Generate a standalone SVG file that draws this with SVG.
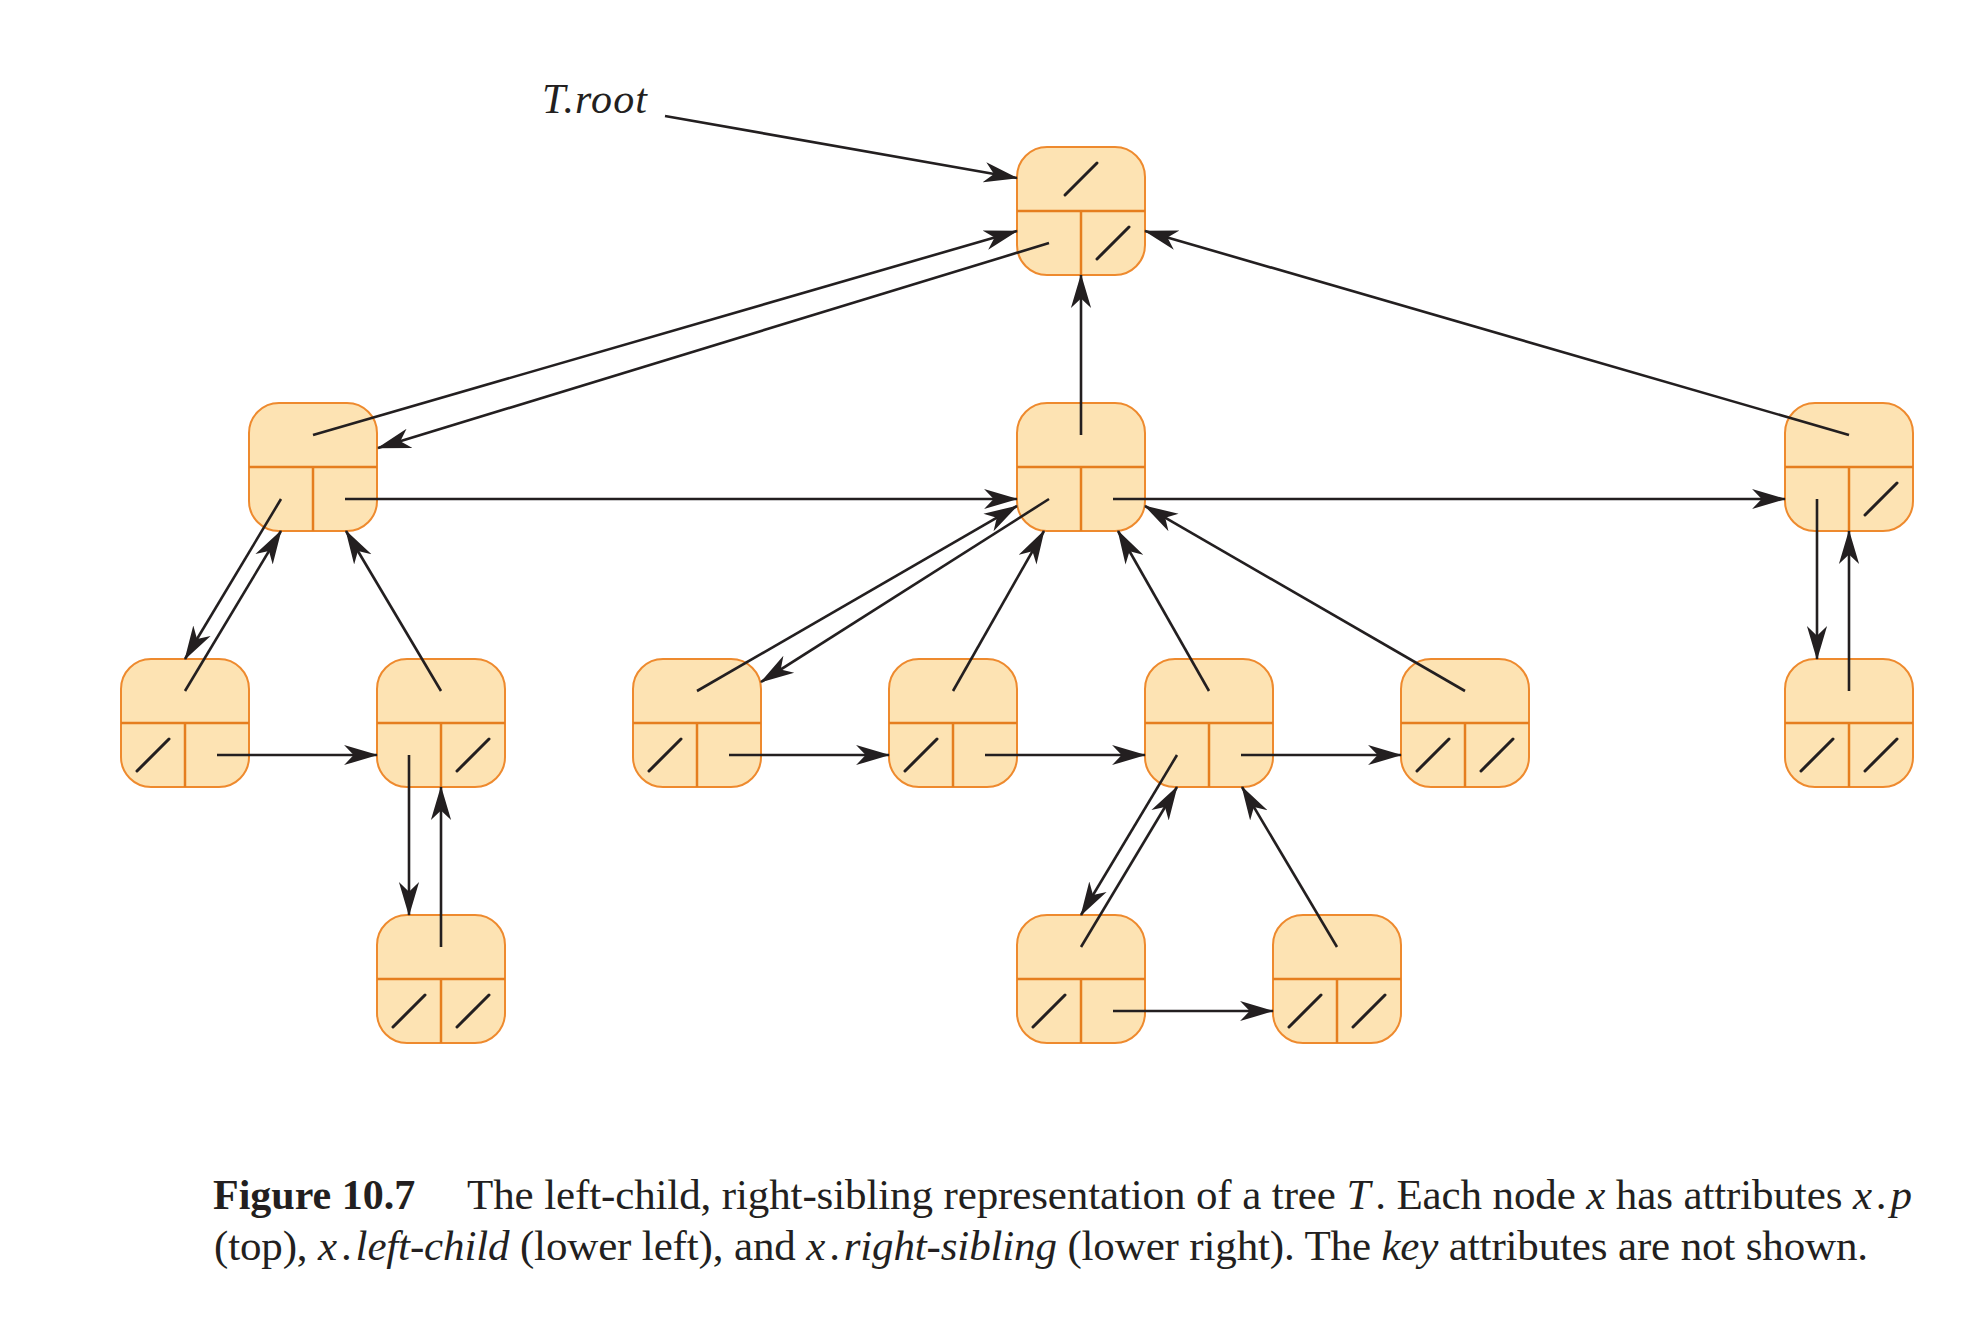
<svg xmlns="http://www.w3.org/2000/svg" xmlns:xlink="http://www.w3.org/1999/xlink" width="1977" height="1337" viewBox="0 0 1977 1337">
<style>
.box{fill:#FDE3B3;stroke:#EE8A2E;stroke-width:2}
.div{stroke:#E57E1F;stroke-width:2.5;fill:none}
.nil{stroke:#231F20;stroke-width:3;stroke-linecap:round}
.ptr{stroke:#231F20;stroke-width:2.6;fill:none;marker-end:url(#ah)}
.lbl{font-family:"Liberation Serif","Times New Roman",serif;fill:#231F20}
.it{font-style:italic}
</style>
<defs>
<marker id="ah" markerUnits="userSpaceOnUse" markerWidth="34" markerHeight="22" viewBox="0 0 32 20" refX="31" refY="10" orient="auto">
<path d="M0,0.5 L32,10 L0,19.5 L9,10 Z" fill="#231F20"/>
</marker>
<g id="box">
<rect class="box" x="0" y="0" width="128" height="128" rx="30" ry="30"/>
<line class="div" x1="0" y1="64" x2="128" y2="64"/>
<line class="div" x1="64" y1="64" x2="64" y2="128"/>
</g>
<line id="sT" class="nil" x1="48" y1="48" x2="80" y2="16"/>
<line id="sL" class="nil" x1="16" y1="112" x2="48" y2="80"/>
<line id="sR" class="nil" x1="80" y1="112" x2="112" y2="80"/>
</defs>

<g id="nodes">
<g id="n-root" transform="translate(1017,147)"><use href="#box"/><use href="#sT"/><use href="#sR"/></g>
<g id="n-a" transform="translate(249,403)"><use href="#box"/></g>
<g id="n-b" transform="translate(1017,403)"><use href="#box"/></g>
<g id="n-c" transform="translate(1785,403)"><use href="#box"/><use href="#sR"/></g>
<g id="n-d" transform="translate(121,659)"><use href="#box"/><use href="#sL"/></g>
<g id="n-e" transform="translate(377,659)"><use href="#box"/><use href="#sR"/></g>
<g id="n-f" transform="translate(633,659)"><use href="#box"/><use href="#sL"/></g>
<g id="n-g" transform="translate(889,659)"><use href="#box"/><use href="#sL"/></g>
<g id="n-h" transform="translate(1145,659)"><use href="#box"/></g>
<g id="n-i" transform="translate(1401,659)"><use href="#box"/><use href="#sL"/><use href="#sR"/></g>
<g id="n-j" transform="translate(1785,659)"><use href="#box"/><use href="#sL"/><use href="#sR"/></g>
<g id="n-k" transform="translate(377,915)"><use href="#box"/><use href="#sL"/><use href="#sR"/></g>
<g id="n-l" transform="translate(1017,915)"><use href="#box"/><use href="#sL"/></g>
<g id="n-m" transform="translate(1273,915)"><use href="#box"/><use href="#sL"/><use href="#sR"/></g>
</g>

<g id="connectors">
<line class="ptr" x1="665" y1="116" x2="1017" y2="178"/>
<line class="ptr" x1="1049" y1="243" x2="378" y2="448"/>
<line class="ptr" x1="313" y1="435" x2="1017" y2="231"/>
<line class="ptr" x1="1081" y1="435" x2="1081" y2="275"/>
<line class="ptr" x1="1849" y1="435" x2="1145" y2="231"/>
<line class="ptr" x1="345" y1="499" x2="1017" y2="499"/>
<line class="ptr" x1="1113" y1="499" x2="1785" y2="499"/>
<line class="ptr" x1="281" y1="499" x2="185" y2="659"/>
<line class="ptr" x1="185" y1="691" x2="281" y2="531"/>
<line class="ptr" x1="441" y1="691" x2="346" y2="531"/>
<line class="ptr" x1="217" y1="755" x2="377" y2="755"/>
<line class="ptr" x1="409" y1="755" x2="409" y2="915"/>
<line class="ptr" x1="441" y1="947" x2="441" y2="787"/>
<line class="ptr" x1="1049" y1="499" x2="761" y2="682"/>
<line class="ptr" x1="697" y1="691" x2="1017" y2="506"/>
<line class="ptr" x1="953" y1="691" x2="1044" y2="531"/>
<line class="ptr" x1="1209" y1="691" x2="1118" y2="531"/>
<line class="ptr" x1="1465" y1="691" x2="1145" y2="506"/>
<line class="ptr" x1="729" y1="755" x2="889" y2="755"/>
<line class="ptr" x1="985" y1="755" x2="1145" y2="755"/>
<line class="ptr" x1="1241" y1="755" x2="1401" y2="755"/>
<line class="ptr" x1="1177" y1="755" x2="1081" y2="915"/>
<line class="ptr" x1="1081" y1="947" x2="1177" y2="787"/>
<line class="ptr" x1="1337" y1="947" x2="1242" y2="787"/>
<line class="ptr" x1="1113" y1="1011" x2="1273" y2="1011"/>
<line class="ptr" x1="1817" y1="499" x2="1817" y2="659"/>
<line class="ptr" x1="1849" y1="691" x2="1849" y2="531"/>
</g>

<text class="lbl it" x="542" y="113" font-size="42" textLength="105" lengthAdjust="spacing">T.root</text>

<g id="caption">
<text class="lbl" x="213" y="1209" font-size="42" font-weight="bold">Figure 10.7</text>
<text class="lbl" x="467" y="1209" font-size="43" textLength="1445" lengthAdjust="spacing">The left-child, right-sibling representation of a tree <tspan class="it">T</tspan><tspan dx="5">. Each node </tspan><tspan class="it">x</tspan> has attributes <tspan class="it">x</tspan><tspan dx="4">.</tspan><tspan class="it" dx="4">p</tspan></text>
<text class="lbl" x="214" y="1260" font-size="43" textLength="1654" lengthAdjust="spacing">(top), <tspan class="it">x</tspan><tspan dx="4">.</tspan><tspan class="it" dx="4">left-child</tspan> (lower left), and <tspan class="it">x</tspan><tspan dx="4">.</tspan><tspan class="it" dx="4">right-sibling</tspan> (lower right). The <tspan class="it">key</tspan> attributes are not shown.</text>
</g>
</svg>
